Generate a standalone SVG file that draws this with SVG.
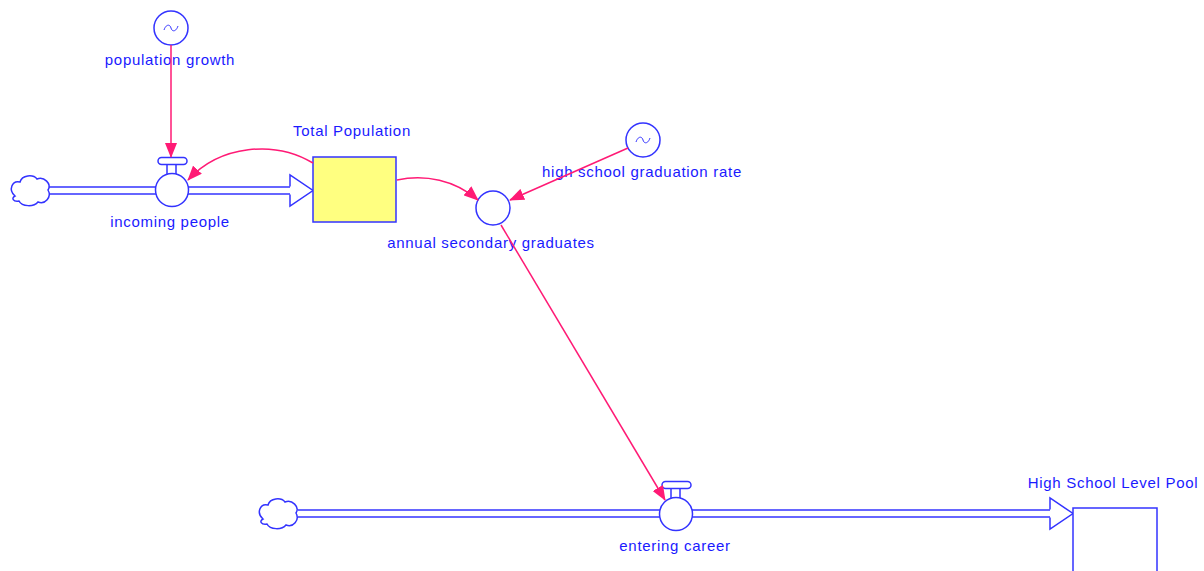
<svg xmlns="http://www.w3.org/2000/svg" width="1204" height="571" viewBox="0 0 1204 571">
<style>
.lbl{font-family:"Liberation Sans",Arial,sans-serif;font-size:15px;letter-spacing:0.7px;fill:#1a1aff;text-anchor:middle}
.bl{fill:#fff;stroke:#3333ff;stroke-width:1.5}
.pipeo{stroke:#3333ff;stroke-width:8.5;fill:none}
.pipei{stroke:#fff;stroke-width:5.5;fill:none}
.con{stroke:#ff1a75;stroke-width:1.5;fill:none;marker-end:url(#ah)}
.tilde{fill:none;stroke:#3333ff;stroke-width:1}
</style>
<defs>
<marker id="ah" markerWidth="15" markerHeight="12" refX="14" refY="6" orient="auto" markerUnits="userSpaceOnUse">
<path d="M0,0 L15,6 L0,12 Z" fill="#ff1a75"/>
</marker>
</defs>
<rect width="1204" height="571" fill="#fff"/>
<g id="flows">
<path class="pipeo" d="M48,190.5 H292"/>
<path class="pipei" d="M48,190.5 H294"/>
<path class="bl" d="M290,186.5 V175 L313,190.5 L290,206 V194.5"/>
<path class="pipeo" d="M298,513.5 H1052"/>
<path class="pipei" d="M298,513.5 H1054"/>
<path class="bl" d="M1050,509.5 V498 L1073,513.5 L1050,529 V517.5"/>
</g>
<g id="cloud1">
<path class="bl" d="M15,196 C8,190 12,180 20,182 C22,175 33,174 37,179 C44,176 52,184 48,190 C52,197 45,205 38,202 C34,207 22,207 19,201 C13,202 11,198 15,196 Z"/>
</g>
<g id="cloud2">
<path class="bl" d="M263,519 C256,513 260,503 268,505 C270,498 281,497 285,502 C292,499 300,507 296,513 C300,520 293,528 286,525 C282,530 270,530 267,524 C261,525 259,521 263,519 Z"/>
</g>
<g id="population_growth">
<circle class="bl" cx="171" cy="28" r="17"/>
<path class="tilde" d="M164,30 C166,24 170,24 171,28 C172,32 176,32 178,26"/>
<text class="lbl" x="170" y="65">population growth</text>
</g>
<g id="incoming_people">
<path class="bl" d="M167,165 V175 M176,165 V175"/>
<rect class="bl" x="158" y="157.5" width="29" height="7" rx="3.5"/>
<circle class="bl" cx="172" cy="190" r="16.5"/>
<text class="lbl" x="170" y="227">incoming people</text>
</g>
<g id="total_population">
<rect x="313" y="157" width="83" height="65" fill="#ffff80" stroke="#3333ff" stroke-width="1.5"/>
<text class="lbl" x="352" y="136">Total Population</text>
</g>
<g id="annual_secondary_graduates">
<circle class="bl" cx="493" cy="208" r="17"/>
<text class="lbl" x="491" y="248">annual secondary graduates</text>
</g>
<g id="high_school_graduation_rate">
<circle class="bl" cx="643" cy="140" r="17"/>
<path class="tilde" d="M636,142 C638,136 642,136 643,140 C644,144 648,144 650,138"/>
<text class="lbl" x="642" y="177">high school graduation rate</text>
</g>
<g id="entering_career">
<path class="bl" d="M671,489 V499 M680,489 V499"/>
<rect class="bl" x="662" y="481.5" width="29" height="7" rx="3.5"/>
<circle class="bl" cx="676" cy="514" r="16.5"/>
<text class="lbl" x="675" y="551">entering career</text>
</g>
<g id="high_school_level_pool">
<rect class="bl" x="1073" y="508" width="84" height="80"/>
<text class="lbl" x="1113" y="488">High School Level Pool</text>
</g>
<g id="connectors">
<path class="con" d="M171,45 V157"/>
<path class="con" d="M313,163 C275,140 220,145 188,180"/>
<path class="con" d="M397,180 C425,174 455,180 478,200"/>
<path class="con" d="M628,148 L510,200"/>
<path class="con" d="M501,225 L665,500"/>
</g>
</svg>
